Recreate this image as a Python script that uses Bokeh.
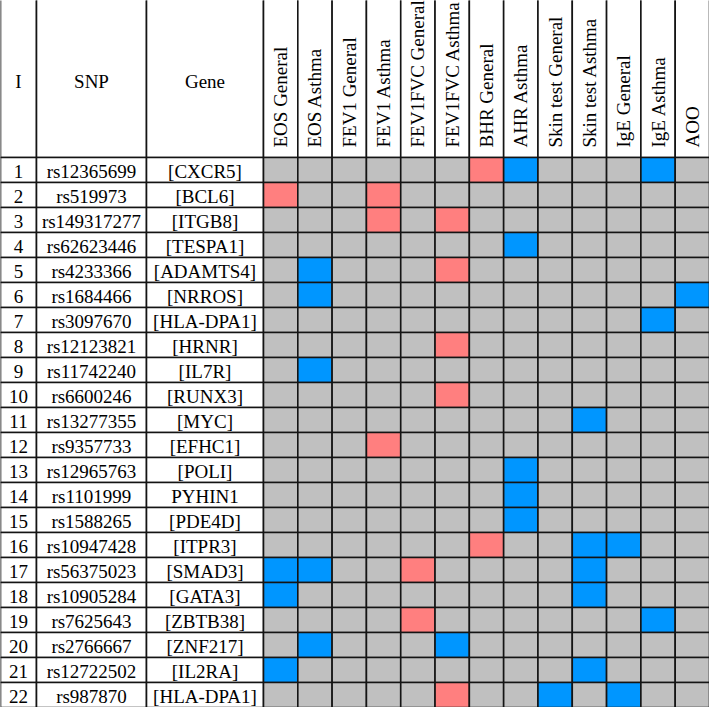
import math
from bokeh.plotting import figure
from bokeh.models import ColumnDataSource, Range1d
from bokeh.core.properties import value
from bokeh.embed import file_html
from bokeh.resources import INLINE

# ---------------- data ----------------
header_labels = ["I", "SNP", "Gene"]
index_labels = [str(i) for i in range(1, 23)]
snps = ["rs12365699", "rs519973", "rs149317277", "rs62623446", "rs4233366",
        "rs1684466", "rs3097670", "rs12123821", "rs11742240", "rs6600246",
        "rs13277355", "rs9357733", "rs12965763", "rs1101999", "rs1588265",
        "rs10947428", "rs56375023", "rs10905284", "rs7625643", "rs2766667",
        "rs12722502", "rs987870"]
genes = ["[CXCR5]", "[BCL6]", "[ITGB8]", "[TESPA1]", "[ADAMTS4]", "[NRROS]",
         "[HLA-DPA1]", "[HRNR]", "[IL7R]", "[RUNX3]", "[MYC]", "[EFHC1]",
         "[POLI]", "PYHIN1", "[PDE4D]", "[ITPR3]", "[SMAD3]", "[GATA3]",
         "[ZBTB38]", "[ZNF217]", "[IL2RA]", "[HLA-DPA1]"]
traits = ["EOS General", "EOS Asthma", "FEV1 General", "FEV1 Asthma",
          "FEV1FVC General", "FEV1FVC Asthma", "BHR General", "AHR Asthma",
          "Skin test General", "Skin test Asthma", "IgE General", "IgE Asthma", "AOO"]
# 0 = none (grey), 1 = red, 2 = blue
hits = [
    [0, 0, 0, 0, 0, 0, 1, 2, 0, 0, 0, 2, 0],
    [1, 0, 0, 1, 0, 0, 0, 0, 0, 0, 0, 0, 0],
    [0, 0, 0, 1, 0, 1, 0, 0, 0, 0, 0, 0, 0],
    [0, 0, 0, 0, 0, 0, 0, 2, 0, 0, 0, 0, 0],
    [0, 2, 0, 0, 0, 1, 0, 0, 0, 0, 0, 0, 0],
    [0, 2, 0, 0, 0, 0, 0, 0, 0, 0, 0, 0, 2],
    [0, 0, 0, 0, 0, 0, 0, 0, 0, 0, 0, 2, 0],
    [0, 0, 0, 0, 0, 1, 0, 0, 0, 0, 0, 0, 0],
    [0, 2, 0, 0, 0, 0, 0, 0, 0, 0, 0, 0, 0],
    [0, 0, 0, 0, 0, 1, 0, 0, 0, 0, 0, 0, 0],
    [0, 0, 0, 0, 0, 0, 0, 0, 0, 2, 0, 0, 0],
    [0, 0, 0, 1, 0, 0, 0, 0, 0, 0, 0, 0, 0],
    [0, 0, 0, 0, 0, 0, 0, 2, 0, 0, 0, 0, 0],
    [0, 0, 0, 0, 0, 0, 0, 2, 0, 0, 0, 0, 0],
    [0, 0, 0, 0, 0, 0, 0, 2, 0, 0, 0, 0, 0],
    [0, 0, 0, 0, 0, 0, 1, 0, 0, 2, 2, 0, 0],
    [2, 2, 0, 0, 1, 0, 0, 0, 0, 2, 0, 0, 0],
    [2, 0, 0, 0, 0, 0, 0, 0, 0, 2, 0, 0, 0],
    [0, 0, 0, 0, 1, 0, 0, 0, 0, 0, 0, 2, 0],
    [0, 2, 0, 0, 0, 2, 0, 0, 0, 0, 0, 0, 0],
    [2, 0, 0, 0, 0, 0, 0, 0, 0, 2, 0, 0, 0],
    [0, 0, 0, 0, 0, 1, 0, 0, 2, 0, 2, 0, 0],
]

# ---------------- layout / style ----------------
W, H = 709, 707
text_col_w = [36, 110, 117]
trait_w = (W - sum(text_col_w)) / len(traits)
header_h = 157
row_h = 25
colors = {0: "#C0C0C0", 1: "#FF7F7F", 2: "#0096FF"}
line_col = "#141414"
font = value("Liberation Serif")
fsize = "19px"

col_w = text_col_w + [trait_w] * len(traits)
edges = [0.0]
for w in col_w:
    edges.append(edges[-1] + w)
n_rows = len(snps)

p = figure(width=W, height=H, output_backend="svg", toolbar_location=None,
           x_range=Range1d(0, W), y_range=Range1d(H, 0),
           min_border=0, min_border_left=0, min_border_right=0,
           min_border_top=0, min_border_bottom=0)
p.axis.visible = False
p.grid.visible = False
p.outline_line_color = None
p.background_fill_color = "white"
p.border_fill_color = "white"

# cells
L, R, T, B, C = [], [], [], [], []
for j in range(len(col_w)):
    L.append(edges[j]); R.append(edges[j + 1]); T.append(-5); B.append(header_h); C.append("white")
for i in range(n_rows):
    top = header_h + i * row_h
    for j in range(len(col_w)):
        L.append(edges[j]); R.append(edges[j + 1]); T.append(top); B.append(top + row_h)
        if j < 3:
            C.append("white")
        else:
            C.append(colors[hits[i][j - 3]])
p.quad(left=L, right=R, top=T, bottom=B, fill_color=C, line_color=line_col, line_width=1.6)

# header texts
centers = [(edges[j] + edges[j + 1]) / 2 for j in range(len(col_w))]
p.text(x=centers[:3], y=[header_h / 2 + 2] * 3, text=header_labels, text_font=font,
       text_font_size=fsize, text_align="center", text_baseline="middle", text_color="black")
p.text(x=centers[3:], y=[header_h - 10] * len(traits), text=traits, angle=math.pi / 2,
       text_font=font, text_font_size=fsize, text_align="left", text_baseline="middle",
       text_color="black")

# body texts
ys = [header_h + (i + 0.5) * row_h + 1.5 for i in range(n_rows)]
for j, labels in enumerate([index_labels, snps, genes]):
    p.text(x=[centers[j]] * n_rows, y=ys, text=labels, text_font=font, text_font_size=fsize,
           text_align="center", text_baseline="middle", text_color="black")

open("out.html", "w").write(file_html(p, INLINE))
